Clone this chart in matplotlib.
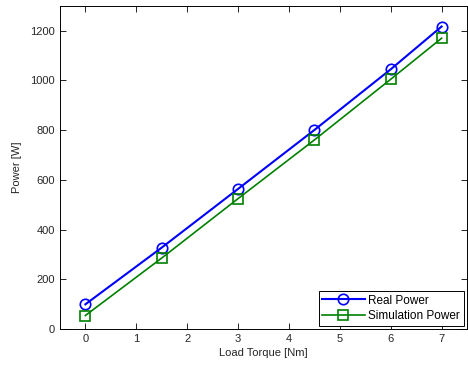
import matplotlib
matplotlib.use("Agg")
from matplotlib import pyplot as plt

plt.rcParams['font.family'] = ['Liberation Sans', 'DejaVu Sans']

torque = [0, 1.5, 3, 4.5, 6, 7]
real_power = [100, 328, 564, 801, 1045, 1217]
sim_power = [55, 286, 525, 761, 1005, 1170]

fig = plt.figure(figsize=(4.68, 3.67), dpi=100)
ax = fig.add_axes([0.128, 0.103, 0.87, 0.881])

ax.plot(torque, real_power, color='#0000ff', marker='o', markersize=7.5,
        markerfacecolor='none', markeredgewidth=1.2, linewidth=1.5, label='Real Power')
ax.plot(torque, sim_power, color='#008000', marker='s', markersize=7.5,
        markerfacecolor='none', markeredgewidth=1.2, linewidth=1.2, label='Simulation Power')

ax.set_xlim(-0.5, 7.5)
ax.set_ylim(0, 1300)
ax.set_xticks(range(8))
ax.set_yticks(range(0, 1201, 200))
ax.tick_params(direction='in', top=True, right=True, labelsize=8, length=4, width=0.6,
               labelcolor='#262626')
for s in ax.spines.values():
    s.set_linewidth(0.7)

ax.set_xlabel('Load Torque [Nm]', fontsize=8, labelpad=3, color='#262626')
ax.set_ylabel('Power [W]', fontsize=8, labelpad=6, color='#262626')

leg = ax.legend(loc='lower right', fontsize=8.5, fancybox=False, edgecolor='black',
                framealpha=1, borderaxespad=0.3, handlelength=3.6, borderpad=0.3,
                labelspacing=0.3, handletextpad=0.3)
leg.get_frame().set_linewidth(0.7)

fig.savefig('out.png', dpi=100)
